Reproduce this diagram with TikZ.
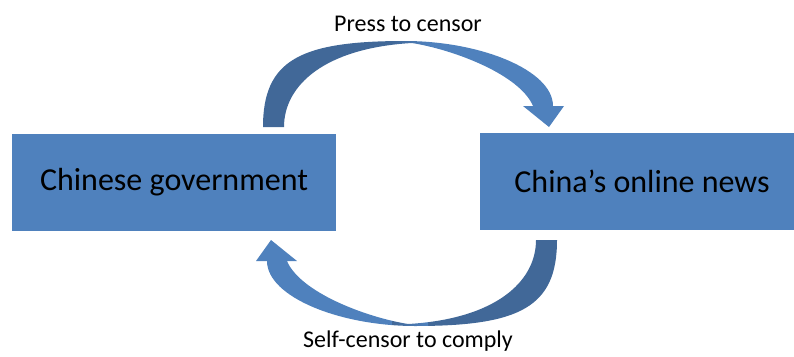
\documentclass[tikz,border=0pt]{standalone}
\usepackage{fontspec}
\setmainfont{Carlito}
\definecolor{boxblue}{HTML}{4F81BD}
\definecolor{backblue}{HTML}{416898}
\newcommand{\curvedarrowpath}{(263,127) .. controls (263,60) and (300,41) .. (405,41)
  .. controls (480,41) and (553,70) .. (553,106) -- (564,106) -- (549,127) -- (523,106) -- (533,106)
  .. controls (520,75) and (455,50) .. (412,43)
  .. controls (325,48) and (284,85) .. (284,127) -- cycle}
\newcommand{\curvedarrowfill}{%
  \fill[backblue] (250,0) rectangle (392,140);
  \shade[left color=backblue, right color=boxblue] (392,0) rectangle (428,140);
  \fill[boxblue] (428,0) rectangle (600,140);}
\tikzset{
  box/.style={draw=none, fill=boxblue, minimum width=324pt, minimum height=97pt,
    inner sep=0pt, font=\fontsize{32}{38}\selectfont},
  lbl/.style={anchor=base, inner sep=0pt, font=\fontsize{24}{29}\selectfont}
}
\begin{document}
\begin{tikzpicture}[x=1pt, y=-1pt]
\useasboundingbox (0,0) rectangle (794,356);
\clip (0,0) rectangle (794,356);
\node[box] (gov) at (174,182.5) {Chinese government};
\node[box] (news) at (642,181) {China’s online news};
% top curved arrow
\begin{scope}
  \clip \curvedarrowpath;
  \curvedarrowfill
\end{scope}
% bottom curved arrow (point reflection of the top one)
\begin{scope}[rotate around={180:(410,183.5)}]
  \clip \curvedarrowpath;
  \curvedarrowfill
\end{scope}
\node[lbl] (press) at (408,31) {Press to censor};
\node[lbl] (self) at (408,347) {Self-censor to comply};
\end{tikzpicture}
\end{document}
